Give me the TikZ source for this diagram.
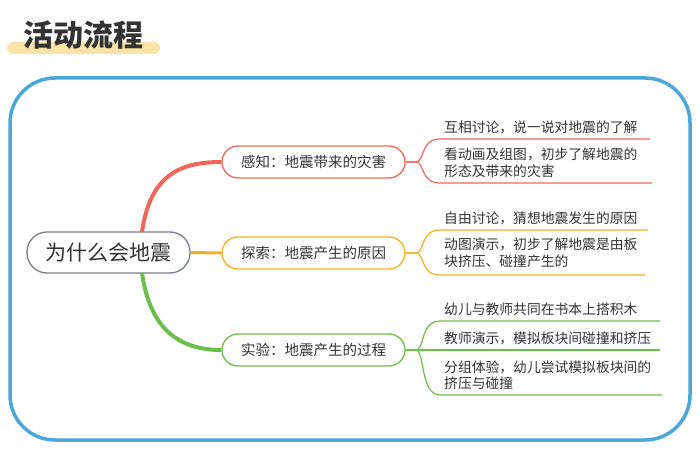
\documentclass[tikz,border=0pt]{standalone}
\usepackage{fontspec}
\setmainfont{Noto Sans CJK SC}
\definecolor{cblue}{HTML}{4AA8D8}
\definecolor{cred}{HTML}{F0675A}
\definecolor{corg}{HTML}{F5B01E}
\definecolor{cgrn}{HTML}{6BBF4B}
\definecolor{cgray}{HTML}{7A8088}
\definecolor{cbar}{HTML}{FBE3A8}
\definecolor{ctext}{HTML}{333333}
\begin{document}
\begin{tikzpicture}[x=1pt,y=-1pt,
  branchbox/.style={draw,line width=1.3pt,rounded corners=16pt,minimum width=183pt,minimum height=32pt,inner sep=0pt,text=ctext,font=\fontsize{14.5}{16}\selectfont},
  leaftext/.style={anchor=west,align=left,text=ctext,inner sep=0pt,font=\fontsize{13.8}{16.5}\selectfont},
  leafline/.style={line width=1.2pt}]
\useasboundingbox (0,0) rectangle (700,473);
\fill[cbar,rounded corners=6pt] (7,42) rectangle (160,54);
\node[anchor=west,text=ctext,inner sep=0pt,font=\fontsize{30}{32}\selectfont\bfseries] (title) at (23,35) {活动流程};
\draw[cblue,line width=3.5pt,rounded corners=45pt] (10,78) rectangle (690,440);
\node[draw=cgray,line width=1.3pt,rounded corners=20pt,minimum width=163pt,minimum height=41pt,text=ctext,font=\fontsize{21}{22}\selectfont] (c) at (108.5,252.5) {为什么会地震};
\node[branchbox,draw=cred] (b1) at (313.5,162) {感知：地震带来的灾害};
\node[branchbox,draw=corg] (b2) at (313.5,253) {探索：地震产生的原因};
\node[branchbox,draw=cgrn] (b3) at (313.5,350) {实验：地震产生的过程};
\coordinate (c1) at (142,232);
\coordinate (c3) at (142,273);
\draw[cred,line width=4pt] (c1) .. controls (150,175) and (180,162) .. (b1.west);
\draw[corg,line width=3pt] (c.east) -- (b2.west);
\draw[cgrn,line width=4pt] (c3) .. controls (150,330) and (180,350) .. (b3.west);
% red leaves
\node[leaftext] (l11) at (444,127) {互相讨论，说一说对地震的了解};
\node[leaftext] (l12) at (444,163) {看动画及组图，初步了解地震的\\形态及带来的灾害};
\coordinate (e11) at (650,139); \coordinate (e12) at (652,183);
\draw[cred,leafline] (b1.east) -- ++(10,0) .. controls (425,162) and (420,139) .. (440,139) -- (e11);
\draw[cred,leafline] (b1.east) -- ++(10,0) .. controls (425,162) and (420,183) .. (440,183) -- (e12);
% orange leaves
\node[leaftext] (l21) at (444,218) {自由讨论，猜想地震发生的原因};
\node[leaftext] (l22) at (444,253) {动图演示，初步了解地震是由板\\块挤压、碰撞产生的};
\coordinate (e21) at (648,230); \coordinate (e22) at (645,275);
\draw[corg,leafline] (b2.east) -- ++(10,0) .. controls (425,253) and (420,230) .. (440,230) -- (e21);
\draw[corg,leafline] (b2.east) -- ++(10,0) .. controls (425,253) and (420,275) .. (440,275) -- (e22);
% green leaves
\node[leaftext] (l31) at (444,309) {幼儿与教师共同在书本上搭积木};
\node[leaftext] (l32) at (444,338) {教师演示，模拟板块间碰撞和挤压};
\node[leaftext] (l33) at (444,375) {分组体验，幼儿尝试模拟板块间的\\挤压与碰撞};
\coordinate (e31) at (660,321); \coordinate (e32) at (660,350); \coordinate (e33) at (662,395);
\draw[cgrn,leafline] (b3.east) -- ++(10,0) .. controls (425,350) and (420,321) .. (440,321) -- (e31);
\draw[cgrn,leafline] (b3.east) -- (e32);
\draw[cgrn,leafline] (b3.east) -- ++(10,0) .. controls (425,350) and (420,395) .. (440,395) -- (e33);
\end{tikzpicture}
\end{document}
